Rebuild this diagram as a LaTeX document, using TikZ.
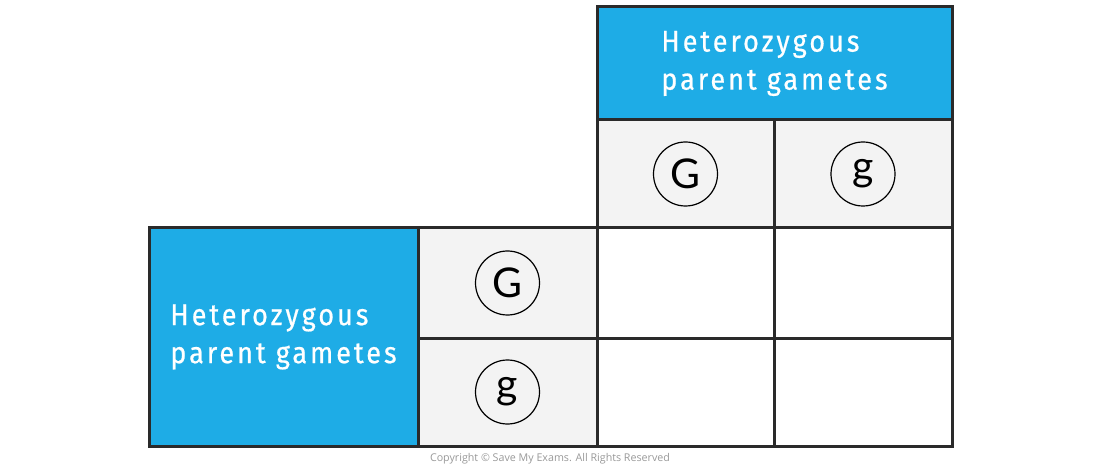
\documentclass[tikz,border=0pt]{standalone}
\usepackage{fontspec}
\setmainfont{Open Sans}
\newfontfamily\headfont[FakeStretch=0.9,LetterSpace=10,FakeBold=0.6]{Fira Sans}
\newfontfamily\allelefont{Lato}
\usetikzlibrary{positioning}
\definecolor{smeblue}{HTML}{1EACE6}
\definecolor{cellgrey}{HTML}{F3F3F3}
\definecolor{gridline}{HTML}{2A2A2A}

\begin{document}
\begin{tikzpicture}[x=1pt,y=-1pt,
header/.style={draw=gridline,line width=3pt,fill=smeblue,text=white,
  font=\headfont\fontsize{30}{38}\selectfont,align=left,inner sep=0pt},
gamcell/.style={draw=gridline,line width=3pt,fill=cellgrey,inner sep=0pt},
offcell/.style={draw=gridline,line width=3pt,fill=white,inner sep=0pt},
allele/.style={circle,draw=black,line width=1.2pt,minimum size=64pt,inner sep=0pt,
  font=\allelefont\fontsize{41}{41}\selectfont},
]
\useasboundingbox (0,0) rectangle (1100,470);

% parent boxes
\node[header,minimum width=355pt,minimum height=113pt]
  (topgam) at (774.5,63.5) {Heterozygous\\parent gametes};
\node[header,minimum width=269pt,minimum height=218pt]
  (leftgam) at (283.5,337) {Heterozygous\\parent gametes};

% gamete cells
\node[gamcell,minimum width=177pt,minimum height=108pt] (topG) at (685.5,174) {};
\node[gamcell,minimum width=178pt,minimum height=108pt] (topg) at (863,174) {};
\node[gamcell,minimum width=179pt,minimum height=110pt] (leftG) at (507.5,283) {};
\node[gamcell,minimum width=179pt,minimum height=108pt] (leftg) at (507.5,392) {};

% offspring cells
\foreach \cx/\cw/\ci in {685.5/177/1,863/178/2}
  \foreach \cy/\ch/\cj in {283/110/1,392/108/2}
    \node[offcell,minimum width=\cw pt,minimum height=\ch pt] (off\cj\ci) at (\cx,\cy) {};

% alleles
\node[allele] (aG1) at (topG) {G};
\node[allele] (ag1) at (topg) {g};
\node[allele] (aG2) at (leftG) {G};
\node[allele] (ag2) at (leftg) {g};

\node[text=black!40,font=\fontsize{10.7}{12}\selectfont] (copy) at (550,459)
  {Copyright \textcopyright\ Save My Exams. All Rights Reserved};
\end{tikzpicture}
\end{document}
